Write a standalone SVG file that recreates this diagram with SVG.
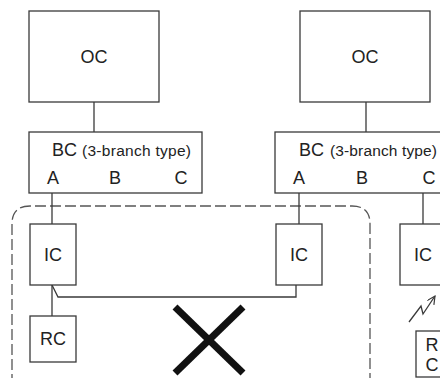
<svg xmlns="http://www.w3.org/2000/svg" width="440" height="378" viewBox="0 0 440 378">
<defs>
<style>
.box{fill:#fff;stroke:#3a3a3a;stroke-width:1.3}
.ln{fill:none;stroke:#3a3a3a;stroke-width:1.3}
.t{font-family:"Liberation Sans",Arial,sans-serif;font-size:18px;fill:#222;text-anchor:middle}
.s{font-family:"Liberation Sans",Arial,sans-serif;font-size:15.5px;fill:#222}
</style>
<marker id="ah" markerWidth="10" markerHeight="10" refX="8" refY="4" orient="auto" markerUnits="userSpaceOnUse">
<path d="M0,0 L8,4 L0,8" fill="none" stroke="#3a3a3a" stroke-width="1.2"/>
</marker>
</defs>
<rect width="440" height="378" fill="#fff"/>
<g id="group-boundary">
<path d="M12,385 L12,224 Q12,206 30,206 L352,206 Q370,206 370,224 L370,385" fill="none" stroke="#555" stroke-width="1.3" stroke-dasharray="11,4"/>
</g>
<g id="connectors">
<line class="ln" x1="94" y1="102" x2="94" y2="132"/>
<line class="ln" x1="366" y1="102" x2="366" y2="132"/>
<line class="ln" x1="52" y1="193" x2="52" y2="224"/>
<line class="ln" x1="299" y1="193" x2="299" y2="224"/>
<line class="ln" x1="423" y1="193" x2="423" y2="224"/>
<line class="ln" x1="52" y1="285" x2="52" y2="316"/>
<polyline class="ln" points="52,285 58,297 296,297 296,285"/>
<polyline class="ln" points="409,322 421,306 423,314 435,296" marker-end="url(#ah)"/>
</g>
<g id="cross">
<line x1="175" y1="307" x2="243" y2="373" stroke="#111" stroke-width="7"/>
<line x1="243" y1="307" x2="175" y2="373" stroke="#111" stroke-width="7"/>
</g>
<g id="oc-left">
<rect class="box" x="29" y="11" width="130" height="91"/>
<text class="t" x="94" y="63">OC</text>
</g>
<g id="oc-right">
<rect class="box" x="300" y="11" width="130" height="91"/>
<text class="t" x="365" y="63">OC</text>
</g>
<g id="bc-left">
<rect class="box" x="29" y="132" width="173" height="61"/>
<text class="t" x="52" y="156" style="text-anchor:start">BC</text>
<text class="s" x="82" y="156" textLength="109">(3-branch type)</text>
<text class="t" x="53" y="184">A</text>
<text class="t" x="115" y="184">B</text>
<text class="t" x="181" y="184">C</text>
</g>
<g id="bc-right">
<rect class="box" x="275" y="132" width="173" height="61"/>
<text class="t" x="299" y="156" style="text-anchor:start">BC</text>
<text class="s" x="330" y="156" textLength="107">(3-branch type)</text>
<text class="t" x="299" y="184">A</text>
<text class="t" x="362" y="184">B</text>
<text class="t" x="429" y="184">C</text>
</g>
<g id="ic-1">
<rect class="box" x="30" y="224" width="46" height="61"/>
<text class="t" x="53" y="261">IC</text>
</g>
<g id="ic-2">
<rect class="box" x="276" y="224" width="46" height="61"/>
<text class="t" x="299" y="261">IC</text>
</g>
<g id="ic-3">
<rect class="box" x="400" y="224" width="46" height="61"/>
<text class="t" x="423" y="261">IC</text>
</g>
<g id="rc-1">
<rect class="box" x="30" y="316" width="46" height="46"/>
<text class="t" x="53" y="345">RC</text>
</g>
<g id="rc-2">
<rect class="box" x="416" y="331" width="46" height="46"/>
<text class="t" x="432" y="351">R</text>
<text class="t" x="432" y="371">C</text>
</g>
</svg>
